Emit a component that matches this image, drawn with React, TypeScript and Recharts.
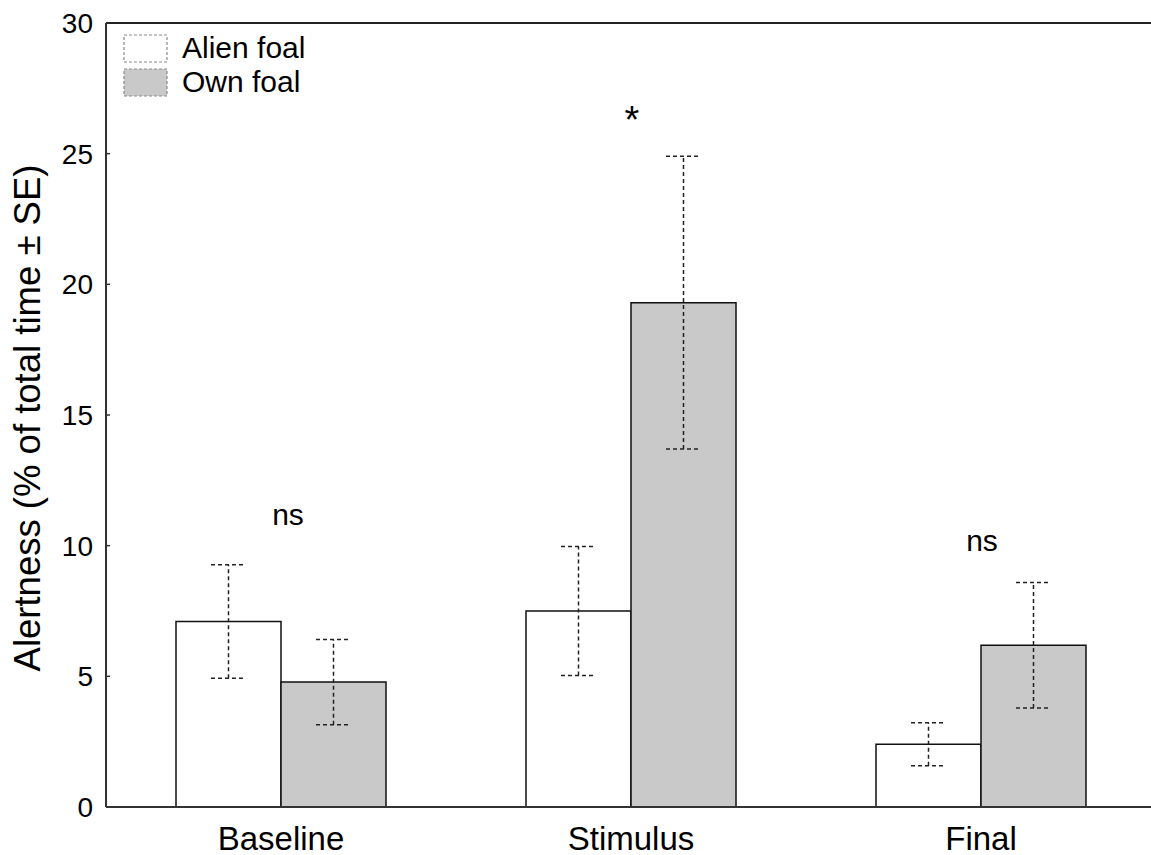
import { BarChart, Bar, XAxis, YAxis, ErrorBar, ReferenceDot, ReferenceLine } from 'recharts';

const categories = ['Baseline', 'Stimulus', 'Final'];
const alienMean = [7.1, 7.5, 2.4];
const alienSE = [2.17, 2.47, 0.82];
const ownMean = [4.78, 19.3, 6.19];
const ownSE = [1.63, 5.6, 2.4];
const yTicks = [0, 5, 10, 15, 20, 25, 30];
const marks = ['ns', '*', 'ns'];
const markY = [11.2, 26.3, 10.2];

const font = '"Liberation Sans", Arial, sans-serif';
const ownFill = '#c9c9c9';
const alienFill = '#ffffff';

const data = categories.map((name, i) => ({
  name,
  alien: alienMean[i],
  alienErr: alienSE[i],
  own: ownMean[i],
  ownErr: ownSE[i],
}));

function LegendBox() {
  const rows = [
    { label: 'Alien foal', fill: alienFill, y: 35 },
    { label: 'Own foal', fill: ownFill, y: 69 },
  ];
  return (
    <svg width={400} height={110} style={{ position: 'absolute', left: 0, top: 0 }}>
      {rows.map((r) => (
        <g key={r.label}>
          <rect x={124} y={r.y} width={43} height={27} fill={r.fill} stroke="#8a8a8a" strokeWidth={1.2} strokeDasharray="3 2" />
          <text x={182} y={r.y + 23} fontSize={30} fontFamily={font} fill="#000">{r.label}</text>
        </g>
      ))}
    </svg>
  );
}

export default function App() {
  return (
    <div style={{ position: 'absolute', left: 0, top: 0, width: 1151, height: 855, overflow: 'hidden', background: '#fff' }}>
      <BarChart
        width={1240}
        height={855}
        data={data}
        margin={{ top: 23, right: 4, bottom: 0, left: 46 }}
        barCategoryGap="20%"
        barGap={0}
      >
        <XAxis
          dataKey="name"
          padding={{ left: 0, right: 80 }}
          tickLine={false}
          tickSize={0}
          tickMargin={20}
          height={48}
          axisLine={{ stroke: '#333', strokeWidth: 2 }}
          tick={{ fontSize: 33, fontFamily: font, fill: '#000' }}
        />
        <YAxis
          domain={[0, 30]}
          ticks={yTicks}
          width={60}
          tickSize={-4}
          tickMargin={17}
          axisLine={{ stroke: '#333', strokeWidth: 2 }}
          tickLine={{ stroke: '#333', strokeWidth: 1.5 }}
          tick={{ fontSize: 28, fontFamily: font, fill: '#000' }}
          label={{
            value: 'Alertness (% of total time \u00b1 SE)',
            content: () => (
              <text
                x={40}
                y={418}
                transform="rotate(-90 40 418)"
                textAnchor="middle"
                fontSize={36.5}
                fontFamily={font}
                fill="#000"
              >
                Alertness (% of total time ± SE)
              </text>
            ),
          }}
        />
        <ReferenceLine y={30} stroke="#222" strokeWidth={2} />
        <Bar dataKey="alien" fill={alienFill} stroke="#111" strokeWidth={1.5} isAnimationActive={false}>
          <ErrorBar dataKey="alienErr" width={17.5} stroke="#222" strokeWidth={1.5} strokeDasharray="4 3" />
        </Bar>
        <Bar dataKey="own" fill={ownFill} stroke="#111" strokeWidth={1.5} isAnimationActive={false}>
          <ErrorBar dataKey="ownErr" width={17.5} stroke="#222" strokeWidth={1.5} strokeDasharray="4 3" />
        </Bar>
        {marks.map((m, i) => (
          <ReferenceDot
            key={i}
            x={categories[i]}
            y={markY[i]}
            r={0}
            fill="none"
            stroke="none"
            label={{ value: m, position: 'center', fontSize: m === '*' ? 38 : 30, fontFamily: font, fill: '#000', dx: i === 0 ? 7 : 1 }}
          />
        ))}
      </BarChart>
      <div style={{ position: 'absolute', left: 1140, top: 25, width: 11, height: 780, background: '#fff' }} />
      <LegendBox />
    </div>
  );
}
